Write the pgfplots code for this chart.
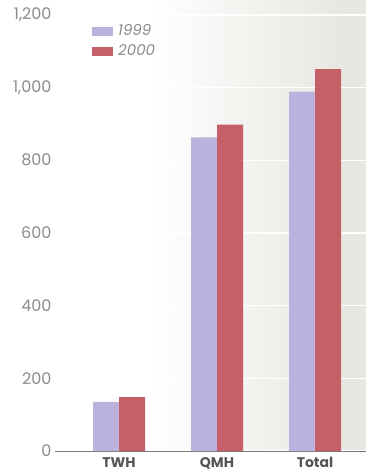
\documentclass[border=0pt]{standalone}
\usepackage{fontspec}
\setmainfont{Poppins}
\usepackage{pgfplots}
\pgfplotsset{compat=1.18}

\definecolor{panelgrey}{RGB}{232,230,224}
\definecolor{lilac}{RGB}{187,179,222}
\definecolor{rose}{RGB}{198,96,104}
\definecolor{ticktxt}{RGB}{140,140,140}
\definecolor{cattxt}{RGB}{85,85,85}
\definecolor{axisgrey}{RGB}{120,120,120}

% panel fades from white on the left into a warm grey on the right
\pgfdeclarehorizontalshading{panel}{100bp}{color(0bp)=(white); color(40bp)=(white); color(72bp)=(panelgrey); color(100bp)=(panelgrey)}

\begin{document}
\begin{tikzpicture}[x=1pt,y=1pt]
\useasboundingbox (0,0) rectangle (366,474);
\begin{axis}[
  at={(55pt,23pt)}, anchor=south west,
  scale only axis, width=311pt, height=451pt,
  xmin=-0.653, xmax=2.52,
  ymin=0, ymax=1241,
  ybar=0pt, bar width=26pt,
  axis x line*=bottom, axis y line*=left,
  x axis line style={draw=axisgrey, line width=0.8pt, -},
  y axis line style={draw=none},
  major tick length=0pt,
  xtick={0,1,2}, xticklabels={TWH,QMH,Total},
  ytick={0,200,...,1200},
  yticklabel style={/pgf/number format/.cd, 1000 sep={,}, assume math mode=true},
  ticklabel style={font=\fontsize{16}{19}\selectfont, text=ticktxt},
  xticklabel style={font=\fontsize{14}{17}\selectfont\bfseries, text=cattxt, yshift=-3pt},
  ymajorgrids,
  grid style={white, line width=1.3pt},
  axis background/.style={shading=panel},
  legend style={at={(axis description cs:0.119,0.95)}, anchor=north west,
    draw=none, fill=none, inner sep=0pt, row sep=3.5pt,
    font=\fontsize{15}{17}\selectfont\itshape, text=ticktxt},
  legend cell align=left,
  legend image code/.code={\fill[#1] (0pt,-4.5pt) rectangle (21pt,4.5pt); \path (24pt,0pt);},
]
\addplot[fill=lilac, draw=none] coordinates {(0,135) (1,863) (2,989)};
\addplot[fill=rose, draw=none] coordinates {(0,148) (1,898) (2,1051)};
\legend{1999,2000}
\end{axis}
\end{tikzpicture}
\end{document}
